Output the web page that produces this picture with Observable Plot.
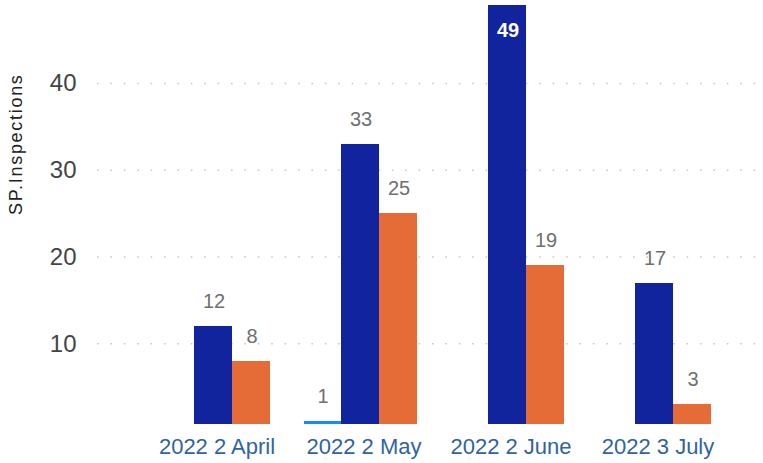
<!DOCTYPE html>
<html>
<head>
<meta charset="utf-8">
<script src="https://cdn.jsdelivr.net/npm/d3@7"></script>
<script src="https://cdn.jsdelivr.net/npm/@observablehq/plot@0.6"></script>
<style>
  html, body { margin: 0; padding: 0; background: #fff; }
  #chart svg { display: block; }
</style>
</head>
<body>
<div id="chart"></div>
<script>
// ---- data ----
const categories = ["2022 2 April", "2022 2 May", "2022 2 June", "2022 3 July"];
const seriesNames = ["Series A", "Series B", "Series C"];
const seriesColors = ["#118DFF", "#12239E", "#E66C37"];
const seriesAValues = [null, 1, null, null];
const seriesBValues = [12, 33, 49, 17];
const seriesCValues = [8, 25, 19, 3];
const yTicks = [10, 20, 30, 40];
const yLabel = "SP.Inspections";

const allSeries = [seriesAValues, seriesBValues, seriesCValues];
const insideThreshold = 45;
const slot = 38; // width of one bar inside a category band

function seriesRows(s) {
  const rows = [];
  categories.forEach((c, i) => {
    if (allSeries[s][i] != null) rows.push({category: c, value: allSeries[s][i]});
  });
  return rows;
}

const seriesMarks = seriesNames.flatMap((name, s) => {
  const rows = seriesRows(s);
  return [
    Plot.barY(rows, {x: "category", y: "value", fill: seriesColors[s], insetLeft: s * slot - (s > 0 ? 1 : 0), insetRight: (2 - s) * slot, clip: true, shapeRendering: "crispEdges"}),
    Plot.text(rows.filter(d => d.value < insideThreshold), {x: "category", y: "value", text: d => String(d.value), dx: (s - 1) * slot, dy: -25, fontSize: 20, fill: "#6f6f6f"}),
    Plot.text(rows.filter(d => d.value >= insideThreshold), {x: "category", y: "value", text: d => String(d.value), dx: (s - 1) * slot, dy: 25, fontSize: 20, fontWeight: "bold", fill: "#fff"})
  ];
});

const chart = Plot.plot({
  width: 763,
  height: 463,
  marginTop: 5,
  marginBottom: 39,
  marginLeft: 97,
  marginRight: 0,
  style: {fontFamily: '"Segoe UI", "Liberation Sans", Arial, sans-serif', background: "#fff"},
  x: {domain: categories, paddingInner: 0.2297, paddingOuter: 0.3649, align: 0.537, round: true, axis: null},
  y: {domain: [0.7, 49], axis: null},
  marks: [
    Plot.ruleY(yTicks, {y: d => d, stroke: "#c8c8c8", strokeWidth: 1.6, strokeDasharray: "1.6,11.8"}),
    Plot.axisY({ticks: yTicks, tickSize: 0, tickPadding: 21, fontSize: 24, color: "#444", label: null}),
    Plot.text([yLabel], {text: d => d, frameAnchor: "left", rotate: -90, dx: -81, fontSize: 18, fill: "#222"}),
    ...seriesMarks,
    Plot.axisX({anchor: "bottom", tickSize: 0, tickPadding: 14, fontSize: 22, color: "#2f64a0", label: null, dx: 3})
  ]
});
document.getElementById("chart").appendChild(chart);
d3.select(chart).selectAll("text").filter(function() { return this.textContent === yLabel; }).style("letter-spacing", "1.7px");
</script>
</body>
</html>
